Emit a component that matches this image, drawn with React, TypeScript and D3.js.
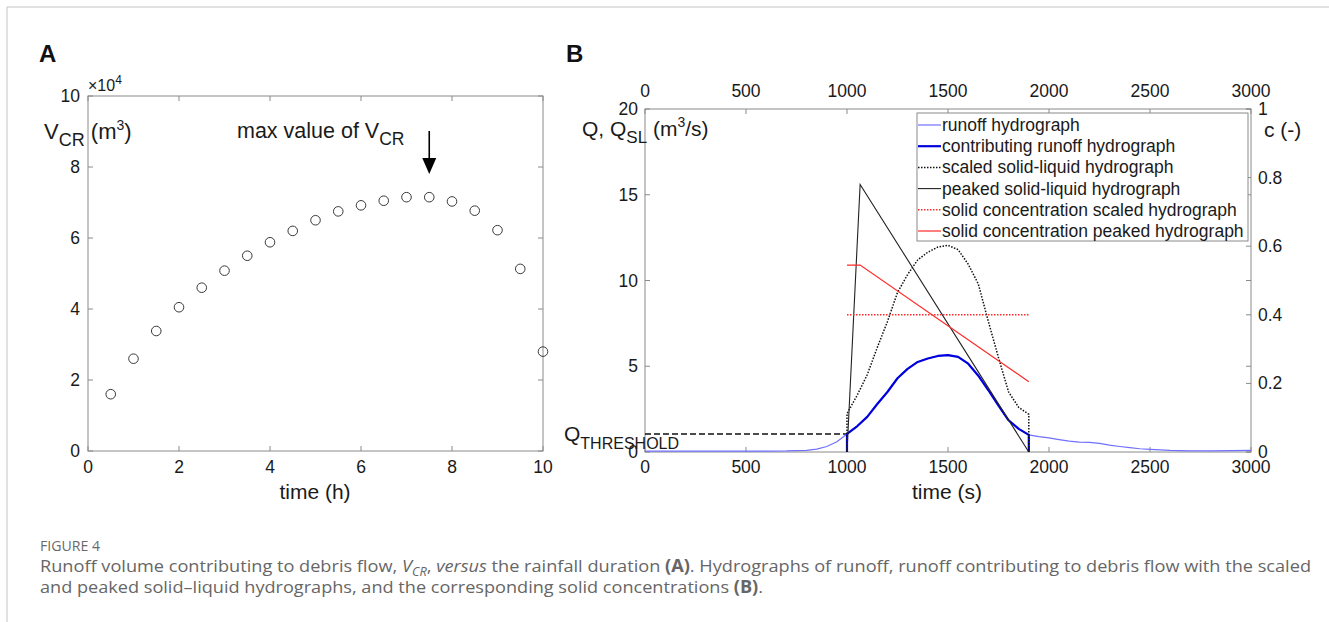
import React from 'react';
import * as d3 from 'd3';

// ---------- Panel A data ----------
const hoursA = [0.5, 1, 1.5, 2, 2.5, 3, 3.5, 4, 4.5, 5, 5.5, 6, 6.5, 7, 7.5, 8, 8.5, 9, 9.5, 10];
const vcrA = [1.6, 2.6, 3.38, 4.05, 4.6, 5.08, 5.5, 5.88, 6.2, 6.5, 6.75, 6.92, 7.05, 7.15, 7.15, 7.03, 6.77, 6.22, 5.13, 2.8];
const xTicksA = [0, 2, 4, 6, 8, 10];
const yTicksA = [0, 2, 4, 6, 8, 10];
const maxIndexA = 14;

// ---------- Panel B data ----------
const runoffTime = [0, 200, 400, 600, 700, 800, 850, 900, 950, 1000, 1050, 1100, 1150, 1200, 1250, 1300, 1350, 1400, 1450, 1500, 1550, 1600, 1650, 1700, 1750, 1800, 1850, 1900, 1950, 2000, 2050, 2100, 2150, 2200, 2250, 2300, 2350, 2400, 2450, 2500, 2600, 2700, 2800, 2900, 3000];
const runoffQ = [0.05, 0.05, 0.05, 0.05, 0.06, 0.1, 0.17, 0.32, 0.6, 1.05, 1.5, 2.05, 2.8, 3.5, 4.3, 4.85, 5.25, 5.45, 5.6, 5.65, 5.55, 5.15, 4.45, 3.6, 2.7, 1.85, 1.35, 1.0, 0.9, 0.82, 0.72, 0.63, 0.58, 0.56, 0.5, 0.4, 0.32, 0.25, 0.19, 0.15, 0.09, 0.07, 0.07, 0.08, 0.1];

const contribTime = [1000, 1000, 1050, 1100, 1150, 1200, 1250, 1300, 1350, 1400, 1450, 1500, 1550, 1600, 1650, 1700, 1750, 1800, 1850, 1900, 1900];
const contribQ = [0, 1.05, 1.5, 2.05, 2.8, 3.5, 4.3, 4.85, 5.25, 5.45, 5.6, 5.65, 5.55, 5.15, 4.45, 3.6, 2.7, 1.85, 1.35, 1.0, 0];

const scaledTime = [1000, 1000, 1050, 1100, 1150, 1200, 1250, 1300, 1350, 1400, 1450, 1500, 1550, 1600, 1650, 1700, 1750, 1800, 1850, 1900, 1900];
const scaledQ = [0, 2.24, 3.3, 4.5, 6.1, 7.6, 9.3, 10.35, 11.2, 11.65, 11.95, 12.05, 11.8, 10.95, 9.8, 7.6, 5.5, 3.5, 2.6, 2.2, 0];

const peakedTime = [1000, 1065, 1900];
const peakedQ = [0, 15.6, 0];

const concScaledTime = [1000, 1900];
const concScaledC = [0.4, 0.4];

const concPeakedTime = [1000, 1065, 1900];
const concPeakedC = [0.545, 0.545, 0.205];

const thresholdTime = [0, 1000];
const thresholdQ = [1.05, 1.05];

const xTicksB = [0, 500, 1000, 1500, 2000, 2500, 3000];
const yTicksB = [0, 5, 10, 15, 20];
const cTicksB = [0, 0.2, 0.4, 0.6, 0.8, 1];

const legendLabels = [
  'runoff hydrograph',
  'contributing runoff hydrograph',
  'scaled solid-liquid hydrograph',
  'peaked solid-liquid hydrograph',
  'solid concentration scaled hydrograph',
  'solid concentration peaked hydrograph',
];

const FONT = '"Liberation Sans", Arial, Helvetica, sans-serif';
const CAPFONT = '"Open Sans", "Noto Sans", sans-serif';
const AXIS = '#8a8a8a';
const TXT = '#1a1a1a';

const C_RUNOFF = '#7070ff';
const C_CONTRIB = '#0000dd';
const C_RED = '#ff2a2a';

export default function App() {
  // Panel A scales
  const xA = d3.scaleLinear().domain([0, 10]).range([88, 543]);
  const yA = d3.scaleLinear().domain([0, 10]).range([451, 96]);

  // Panel B scales
  const xB = d3.scaleLinear().domain([0, 3000]).range([645, 1251]);
  const yB = d3.scaleLinear().domain([0, 20]).range([452, 109]);
  const yC = d3.scaleLinear().domain([0, 1]).range([452, 109]);

  const lineQ = (t: number[], v: number[]) =>
    d3.line<number>().x((_, i) => xB(t[i])).y((d) => yB(d))(v) || '';
  const lineC = (t: number[], v: number[]) =>
    d3.line<number>().x((_, i) => xB(t[i])).y((d) => yC(d))(v) || '';

  const legendStyles = [
    { stroke: C_RUNOFF, width: 1.2, dash: undefined },
    { stroke: C_CONTRIB, width: 2.2, dash: undefined },
    { stroke: '#111', width: 1.5, dash: '1.5,1.5' },
    { stroke: '#222', width: 1.1, dash: undefined },
    { stroke: C_RED, width: 1.5, dash: '1.5,1.5' },
    { stroke: C_RED, width: 1.2, dash: undefined },
  ];

  const arrowX = xA(hoursA[maxIndexA]);
  const tl = 5;
  const TICKFS = 17.5;

  return (
    <svg
      width={1329}
      height={622}
      style={{ position: 'absolute', left: 0, top: 0, background: '#fff' }}
      fontFamily={FONT}
    >
      {/* outer frame */}
      <line x1={7} y1={7} x2={1329} y2={7} stroke="#c4c4c4" strokeWidth={1} />
      <line x1={7} y1={7} x2={7} y2={622} stroke="#c4c4c4" strokeWidth={1} />

      {/* ============ Panel A ============ */}
      <text x={39} y={62} fontSize={24} fontWeight="bold" fill="#111">A</text>

      <rect x={88} y={96} width={543 - 88} height={451 - 96} fill="none" stroke={AXIS} strokeWidth={1} />
      {xTicksA.map((t) => (
        <g key={'xa' + t}>
          <line x1={xA(t)} x2={xA(t)} y1={451} y2={451 - tl} stroke={AXIS} />
          <line x1={xA(t)} x2={xA(t)} y1={96} y2={96 + tl} stroke={AXIS} />
          <text x={xA(t)} y={473} fontSize={TICKFS} textAnchor="middle" fill={TXT}>{t}</text>
        </g>
      ))}
      {yTicksA.map((t) => (
        <g key={'ya' + t}>
          <line x1={88} x2={88 + tl} y1={yA(t)} y2={yA(t)} stroke={AXIS} />
          <line x1={543} x2={543 - tl} y1={yA(t)} y2={yA(t)} stroke={AXIS} />
          <text x={80} y={yA(t) + 6} fontSize={TICKFS} textAnchor="end" fill={TXT}>{t}</text>
        </g>
      ))}
      <text x={88} y={91} fontSize={16} fill={TXT}>
        ×10<tspan dy={-7} fontSize={12}>4</tspan>
      </text>
      <text x={315} y={499} fontSize={21} textAnchor="middle" fill={TXT}>time (h)</text>
      <text x={44} y={139} fontSize={22} fill={TXT}>
        V<tspan dy={7} fontSize={18}>CR</tspan>
        <tspan dy={-7}> (m</tspan>
        <tspan dy={-9} fontSize={14}>3</tspan>
        <tspan dy={9}>)</tspan>
      </text>
      <text x={237} y={138} fontSize={21.5} fill={TXT}>
        max value of V<tspan dy={7} fontSize={17.5}>CR</tspan>
      </text>
      <line x1={arrowX} x2={arrowX} y1={131} y2={160} stroke="#000" strokeWidth={1.6} />
      <path d={`M${arrowX - 7},158 L${arrowX + 7},158 L${arrowX},174 Z`} fill="#000" />

      {hoursA.map((h, i) => (
        <circle key={'pt' + i} cx={xA(h)} cy={yA(vcrA[i])} r={4.8} fill="none" stroke="#3a3a3a" strokeWidth={1} />
      ))}

      {/* ============ Panel B ============ */}
      <text x={566} y={62} fontSize={24} fontWeight="bold" fill="#111">B</text>

      <rect x={645} y={109} width={1251 - 645} height={452 - 109} fill="none" stroke={AXIS} strokeWidth={1} />
      {xTicksB.map((t) => (
        <g key={'xb' + t}>
          <line x1={xB(t)} x2={xB(t)} y1={452} y2={452 - tl} stroke={AXIS} />
          <line x1={xB(t)} x2={xB(t)} y1={109} y2={109 + tl} stroke={AXIS} />
          <text x={xB(t)} y={473} fontSize={TICKFS} textAnchor="middle" fill={TXT}>{t}</text>
          <text x={xB(t)} y={97} fontSize={TICKFS} textAnchor="middle" fill={TXT}>{t}</text>
        </g>
      ))}
      {yTicksB.map((t) => (
        <g key={'yb' + t}>
          <line x1={645} x2={645 + tl} y1={yB(t)} y2={yB(t)} stroke={AXIS} />
          <line x1={1251} x2={1251 - tl} y1={yB(t)} y2={yB(t)} stroke={AXIS} />
          <text x={638} y={yB(t) + 6} fontSize={TICKFS} textAnchor="end" fill={TXT}>{t}</text>
        </g>
      ))}
      {cTicksB.map((t) => (
        <g key={'cb' + t}>
          <line x1={1251} x2={1251 - tl} y1={yC(t)} y2={yC(t)} stroke={AXIS} />
          <text x={1258} y={yC(t) + 6} fontSize={TICKFS} textAnchor="start" fill={TXT}>{t}</text>
        </g>
      ))}

      <text x={582} y={136} fontSize={21} fill={TXT}>
        Q, Q<tspan dy={7} fontSize={17}>SL</tspan>
        <tspan dy={-7}> (m</tspan>
        <tspan dy={-9} fontSize={14}>3</tspan>
        <tspan dy={9}>/s)</tspan>
      </text>
      <text x={1264} y={137} fontSize={21} fill={TXT}>c (-)</text>
      <text x={947} y={499} fontSize={21} textAnchor="middle" fill={TXT}>time (s)</text>

      {/* threshold */}
      <path d={lineQ(thresholdTime, thresholdQ)} fill="none" stroke="#111" strokeWidth={1.3} strokeDasharray="6,3" />
      <text x={564} y={441} fontSize={21} fill={TXT}>
        Q<tspan dy={8} fontSize={16}>THRESHOLD</tspan>
      </text>

      {/* curves */}
      <path d={lineQ(runoffTime, runoffQ)} fill="none" stroke={C_RUNOFF} strokeWidth={1.2} />
      <path d={lineQ(contribTime, contribQ)} fill="none" stroke={C_CONTRIB} strokeWidth={2.2} strokeLinejoin="round" />
      <path d={lineQ(scaledTime, scaledQ)} fill="none" stroke="#111" strokeWidth={1.5} strokeDasharray="1.5,1.5" />
      <path d={lineQ(peakedTime, peakedQ)} fill="none" stroke="#222" strokeWidth={1.1} />
      <path d={lineC(concScaledTime, concScaledC)} fill="none" stroke={C_RED} strokeWidth={1.5} strokeDasharray="1.5,1.5" />
      <path d={lineC(concPeakedTime, concPeakedC)} fill="none" stroke={C_RED} strokeWidth={1.2} />

      {/* legend */}
      <rect x={917} y={113} width={1248 - 917} height={241 - 113} fill="#fff" stroke={AXIS} strokeWidth={1} />
      {legendLabels.map((lab, i) => {
        const y = 125 + i * 21.2;
        const s = legendStyles[i];
        return (
          <g key={'lg' + i}>
            <line x1={918} x2={941} y1={y} y2={y} stroke={s.stroke} strokeWidth={s.width} strokeDasharray={s.dash} />
            <text x={942} y={y + 6} fontSize={17.5} fill={TXT}>{lab}</text>
          </g>
        );
      })}

      {/* ============ Caption ============ */}
      <text x={40} y={551} fontSize={14} fill="#6a6a6a" fontFamily={CAPFONT} textLength={60} lengthAdjust="spacingAndGlyphs">FIGURE 4</text>
      <text x={40} y={572} fontSize={17} fill="#666" fontFamily={CAPFONT} textLength={1271} lengthAdjust="spacingAndGlyphs">
        Runoff volume contributing to debris flow, <tspan fontStyle="italic">V</tspan>
        <tspan fontStyle="italic" fontSize={12} dy={4}>CR</tspan>
        <tspan dy={-4}>, </tspan>
        <tspan fontStyle="italic">versus</tspan> the rainfall duration <tspan fontWeight="bold">(A)</tspan>. Hydrographs of runoff, runoff contributing to debris flow with the scaled
      </text>
      <text x={40} y={593} fontSize={17} fill="#666" fontFamily={CAPFONT} textLength={723} lengthAdjust="spacingAndGlyphs">
        and peaked solid–liquid hydrographs, and the corresponding solid concentrations <tspan fontWeight="bold">(B)</tspan>.
      </text>
    </svg>
  );
}
